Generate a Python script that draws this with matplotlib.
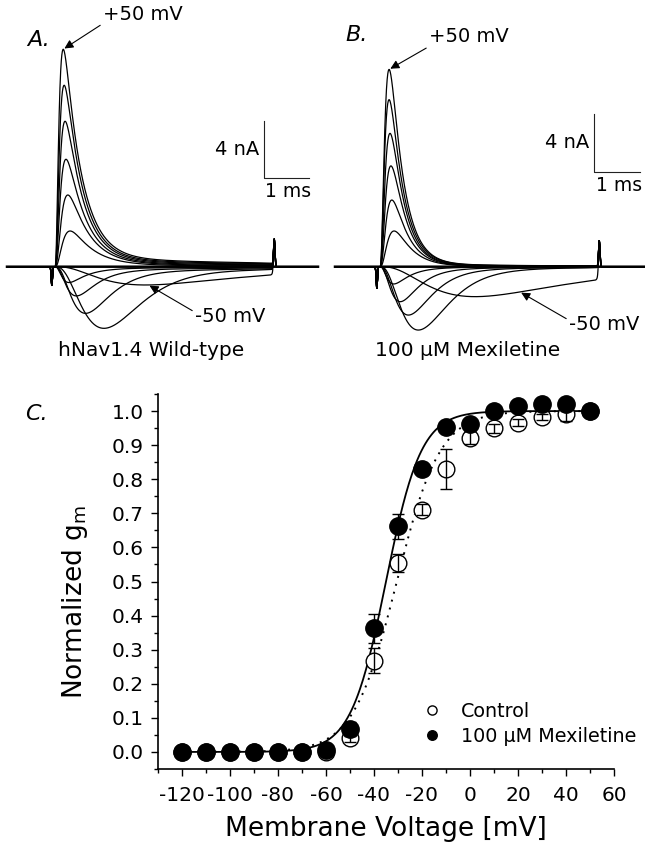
import numpy as np
import matplotlib
matplotlib.use("Agg")
import matplotlib.pyplot as plt
from matplotlib.ticker import MultipleLocator, FormatStrFormatter

plt.rcParams['font.family'] = ['DejaVu Sans']
plt.rcParams['mathtext.fontset'] = 'dejavusans'
plt.rcParams['axes.unicode_minus'] = False

# ---------------- current traces (panels A and B) ----------------
step_mv = [-50, -40, -30, -20, -10, 0, 10, 20, 30, 40, 50]

wt_peak_na = [-1.27, -4.28, -3.24, -2.03, -1.10, 2.48, 4.98, 7.46, 10.1, 12.6, 15.1]
wt_tpeak_ms = [2.0, 1.07, 0.66, 0.46, 0.30, 0.33, 0.28, 0.24, 0.22, 0.20, 0.18]
wt_tau_h_ms = [2.5, 0.55, 0.45, 0.40, 0.38, 0.48, 0.44, 0.41, 0.39, 0.38, 0.38]
wt_slow_frac = [0.0, 0.12, 0.13, 0.13, 0.12, 0.05, 0.045, 0.045, 0.045, 0.045, 0.045]
wt_tau_slow_ms = 5.0

mex_peak_na = [-2.08, -4.40, -3.36, -2.43, -1.20, 2.48, 4.63, 7.00, 9.26, 11.6, 13.7]
mex_tpeak_ms = [2.1, 0.84, 0.62, 0.44, 0.30, 0.31, 0.26, 0.24, 0.22, 0.20, 0.20]
mex_tau_h_ms = [2.2, 0.50, 0.42, 0.36, 0.33, 0.36, 0.33, 0.31, 0.30, 0.30, 0.29]
mex_slow_frac = [0.0, 0.06, 0.07, 0.07, 0.06, 0.015, 0.015, 0.015, 0.015, 0.015, 0.015]
mex_tau_slow_ms = 3.5

step_end_ms = 4.82
onset_artifact_na = [1.3, 1.5]     # wild-type, mexiletine
offset_artifact_na = [1.9, 1.8]

# ---------------- activation curves (panel C) ----------------
voltage_mv = [-120, -110, -100, -90, -80, -70, -60, -50, -40, -30, -20, -10, 0, 10, 20, 30, 40, 50]
gm_control = [0, 0, 0, 0, 0, 0, 0.0, 0.042, 0.268, 0.554, 0.711, 0.830, 0.922, 0.949, 0.966, 0.983, 0.990, 1.0]
gm_control_sem = [0, 0, 0, 0, 0, 0, 0, 0.014, 0.036, 0.027, 0.017, 0.058, 0.020, 0.012, 0.010, 0.008, 0.020, 0]
gm_mex = [0, 0, 0, 0, 0, 0, 0.006, 0.067, 0.363, 0.662, 0.831, 0.952, 0.963, 1.0, 1.015, 1.022, 1.020, 1.0]
gm_mex_sem = [0, 0, 0, 0, 0, 0, 0, 0.020, 0.042, 0.036, 0.010, 0.006, 0.006, 0.005, 0.005, 0.005, 0.005, 0]

# Boltzmann fits: V1/2 and slope factor (mV)
fit_control = (-30.5, 9.0)
fit_mex = (-35.0, 7.3)


def solve_tau_m(tpk, th):
    """activation time constant giving an m^3 h peak at tpk"""
    lo, hi = 1e-4, 20.0
    for _ in range(80):
        tm = 0.5 * (lo + hi)
        x = np.exp(-tpk / tm)
        g = 3 * x / (tm * (1 - x)) - 1.0 / th
        if g > 0:
            hi = tm
        else:
            lo = tm
    return 0.5 * (lo + hi)


def sodium_trace(t, peak, tpk, th, s, ts, notch, spike):
    tm = solve_tau_m(tpk, th)
    tt = np.clip(t, 0, None)
    m3 = (1 - np.exp(-tt / tm)) ** 3
    fast = m3 * np.exp(-tt / th)
    fast = fast / fast.max()
    f = fast + s * m3 * np.exp(-tt / ts)
    f[t < 0] = 0
    f = peak * f / np.abs(f[t < step_end_ms]).max()
    f = f / (1 + np.exp((t - step_end_ms) / 0.015))
    f -= notch * np.exp(-((t + 0.07) / 0.02) ** 2)
    f += spike * np.exp(-((t - step_end_ms - 0.02) / 0.022) ** 2)
    return f


W, H = 645, 844
fig = plt.figure(figsize=(W / 100, H / 100), dpi=100)


def fx(x):
    return x / W


def fy(y):
    return 1 - y / H


PX_MS = 45.3
PX_NA = 14.4


def trace_axes(x0, x1, onset_px):
    ax = fig.add_axes([fx(x0), fy(340), (x1 - x0) / W, 340 / H])
    ax.set_xlim(-(onset_px - x0) / PX_MS, (x1 - onset_px) / PX_MS)
    ax.set_ylim(-(340 - 266.7) / PX_NA, 266.7 / PX_NA)
    ax.axis('off')
    return ax


panels = [
    dict(x0=0, x1=330, onset=55, start=7, stop=318,
         peak=wt_peak_na, tpk=wt_tpeak_ms, th=wt_tau_h_ms, s=wt_slow_frac, ts=wt_tau_slow_ms,
         notch=onset_artifact_na[0], spike=offset_artifact_na[0]),
    dict(x0=322, x1=645, onset=380, start=335, stop=645,
         peak=mex_peak_na, tpk=mex_tpeak_ms, th=mex_tau_h_ms, s=mex_slow_frac, ts=mex_tau_slow_ms,
         notch=onset_artifact_na[1], spike=offset_artifact_na[1]),
]

trace_axes_list = []
for p in panels:
    ax = trace_axes(p['x0'], p['x1'], p['onset'])
    t = np.linspace((p['start'] - p['onset']) / PX_MS, (p['stop'] - p['onset']) / PX_MS, 4000)
    p['t'] = t
    p['traces'] = []
    for i in range(len(step_mv)):
        y = sodium_trace(t, p['peak'][i], p['tpk'][i], p['th'][i], p['s'][i], p['ts'],
                         p['notch'], p['spike'])
        p['traces'].append(y)
        ax.plot(t, y, color='k', lw=0.9, solid_joinstyle='round')
    ax.plot(t, np.zeros_like(t), color='k', lw=1.8)
    trace_axes_list.append(ax)

axA, axB = trace_axes_list

# scale bars: 4 nA, 1 ms
for ax, (tb, ib) in zip(trace_axes_list, [(4.61, 6.14), (4.73, 6.6)]):
    ax.plot([tb, tb, tb + 1.0], [ib + 4.0, ib, ib], color='#222222', lw=0.8)
    ax.annotate('4 nA', xy=(tb, ib + 2.0), xytext=(-5, 0), textcoords='offset pixels',
                ha='right', va='center', fontsize=14)
    ax.annotate('1 ms', xy=(tb + 0.5, ib), xytext=(2, -4), textcoords='offset pixels',
                ha='center', va='top', fontsize=13.5)

arrow = dict(arrowstyle='-|>', color='k', lw=0.8, mutation_scale=13, shrinkA=0, shrinkB=1)

# +50 mV annotations (last trace)
for ax, p, txt_xy in [(axA, panels[0], (103, 14)), (axB, panels[1], (429, 37))]:
    i = step_mv.index(50)
    k = np.argmax(p['traces'][i])
    ax.annotate('+50 mV', xy=(p['t'][k], p['traces'][i][k]),
                xytext=(fx(txt_xy[0]), fy(txt_xy[1])), textcoords='figure fraction',
                ha='left', va='center', fontsize=14,
                arrowprops=dict(arrow, relpos=(0.0, 0.0)))

# -50 mV annotations (first trace)
for ax, p, t_at, txt_xy in [(axA, panels[0], 2.06, (195, 317)), (axB, panels[1], 3.09, (569, 325))]:
    i = step_mv.index(-50)
    k = np.argmin(np.abs(p['t'] - t_at))
    ax.annotate('-50 mV', xy=(p['t'][k], p['traces'][i][k]),
                xytext=(fx(txt_xy[0]), fy(txt_xy[1])), textcoords='figure fraction',
                ha='left', va='center', fontsize=14,
                arrowprops=dict(arrow, relpos=(0.0, 0.75)))

fig.text(fx(151), fy(350), 'hNav1.4 Wild-type', ha='center', va='center', fontsize=14.5)
fig.text(fx(468), fy(350), '100 \u03bcM Mexiletine', ha='center', va='center', fontsize=14.5)

fig.text(fx(39), fy(40), 'A.', ha='center', va='center', fontsize=16, style='italic')
fig.text(fx(357), fy(35), 'B.', ha='center', va='center', fontsize=16, style='italic')
fig.text(fx(36), fy(414), 'C.', ha='center', va='center', fontsize=16, style='italic')

# ---------------- panel C ----------------
axC = fig.add_axes([fx(158), fy(769), (614 - 158) / W, (769 - 394) / H])
v = np.array(voltage_mv, dtype=float)
vv = np.linspace(v.min(), v.max(), 400)


def boltzmann(x, vh, k):
    return 1.0 / (1.0 + np.exp(-(x - vh) / k))


axC.plot(vv, boltzmann(vv, *fit_control), color='k', lw=1.4, ls=(0, (1, 3.2)), zorder=2)
axC.plot(vv, boltzmann(vv, *fit_mex), color='k', lw=1.3, zorder=2)

h_ctrl, = axC.plot(v, gm_control, 'o', ms=12, mfc='white', mec='k', mew=1.0, ls='none', zorder=3)
axC.errorbar(v, gm_control, yerr=gm_control_sem, fmt='none', ecolor='k', elinewidth=1.0,
             capsize=4, capthick=1.0, zorder=4)
h_mex, = axC.plot(v, gm_mex, 'o', ms=12.5, mfc='k', mec='k', ls='none', zorder=5)
axC.errorbar(v, gm_mex, yerr=gm_mex_sem, fmt='none', ecolor='k', elinewidth=1.0,
             capsize=4, capthick=1.0, zorder=6)

axC.set_xlim(-130, 60)
axC.set_ylim(-0.05, 1.05)
axC.spines['top'].set_visible(False)
axC.spines['right'].set_visible(False)
for sp in ('left', 'bottom'):
    axC.spines[sp].set_linewidth(1.2)
axC.xaxis.set_major_locator(MultipleLocator(20))
axC.xaxis.set_minor_locator(MultipleLocator(10))
axC.yaxis.set_major_locator(MultipleLocator(0.1))
axC.yaxis.set_minor_locator(MultipleLocator(0.05))
axC.yaxis.set_major_formatter(FormatStrFormatter('%.1f'))
axC.tick_params(which='major', direction='out', length=5, width=1.0, labelsize=14.5, pad=5)
axC.tick_params(which='minor', direction='out', length=3, width=1.0)
axC.tick_params(axis='x', pad=7)

axC.set_xlabel('Membrane Voltage [mV]', fontsize=19)
axC.xaxis.set_label_coords(0.5, -0.125)
axC.set_ylabel('Normalized g$_{\\mathrm{m}}$', fontsize=19)
axC.yaxis.set_label_coords(-0.15, 0.445)

axC.legend([h_ctrl, h_mex], ['Control', '100 \u03bcM Mexiletine'],
           loc='upper left', bbox_to_anchor=(fx(422), fy(702)), bbox_transform=fig.transFigure,
           frameon=False, markerscale=0.55, handlelength=1.0, handletextpad=1.05,
           labelspacing=0.32, borderpad=0, borderaxespad=0, fontsize=13.8)

fig.savefig('out.png', dpi=100)
